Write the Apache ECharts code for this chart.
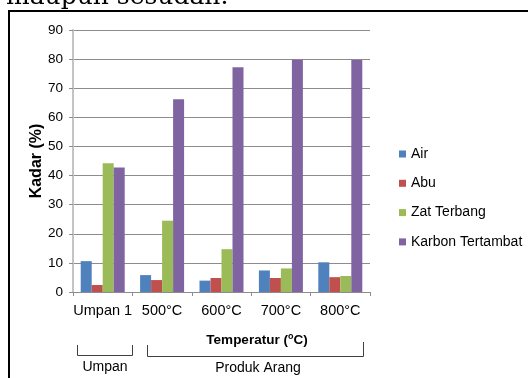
<!DOCTYPE html>
<html>
<head>
<meta charset="utf-8">
<script src="https://cdn.jsdelivr.net/npm/echarts@6/dist/echarts.min.js"></script>
<style>
  html, body { margin: 0; padding: 0; background: #ffffff; }
  #chart { width: 528px; height: 378px; }
</style>
</head>
<body>
<div id="chart"></div>
<script>
// Kadar (%) per sampel: umpan dan arang hasil pirolisis pada berbagai suhu
var categories = ['Umpan 1', '500°C', '600°C', '700°C', '800°C'];
var seriesNames = ['Air', 'Abu', 'Zat Terbang', 'Karbon Tertambat'];
var air = [10.6, 5.8, 3.9, 7.4, 10.2];
var abu = [2.4, 4.1, 4.8, 4.8, 5.1];
var zatTerbang = [44.2, 24.5, 14.7, 8.1, 5.5];
var karbonTertambat = [42.8, 66.2, 77.2, 79.8, 79.7];
var yTicks = [0, 10, 20, 30, 40, 50, 60, 70, 80, 90];

var colors = ['#4F81BD', '#C0504D', '#9BBB59', '#8064A2'];
var values = [air, abu, zatTerbang, karbonTertambat];
var FONT = "'Liberation Sans', Arial, sans-serif";

var chart = echarts.init(document.getElementById('chart'), null, { renderer: 'canvas' });

var series = seriesNames.map(function (name, i) {
  return {
    name: name,
    type: 'bar',
    data: values[i],
    barWidth: 11,
    barGap: '0%',
    itemStyle: { color: colors[i] }
  };
});

chart.setOption({
  animation: false,
  backgroundColor: '#ffffff',
  color: colors,
  grid: { left: 73, right: 158, top: 30, bottom: 86, containLabel: false },
  legend: {
    orient: 'vertical',
    left: 394,
    top: 141,
    icon: 'rect',
    itemWidth: 7,
    itemHeight: 7,
    itemGap: 13.3,
    data: seriesNames,
    textStyle: { fontFamily: FONT, fontSize: 14, color: '#000', lineHeight: 16 }
  },
  xAxis: {
    type: 'category',
    data: categories,
    axisLine: { show: true, lineStyle: { color: '#8c8c8c', width: 1 } },
    axisTick: { show: true, length: 4, lineStyle: { color: '#8c8c8c' } },
    axisLabel: { interval: 0, hideOverlap: false, fontFamily: FONT, fontSize: 14.5, color: '#000', margin: 11 },
    splitLine: { show: false }
  },
  yAxis: {
    type: 'value',
    min: yTicks[0],
    max: yTicks[yTicks.length - 1],
    interval: yTicks[1] - yTicks[0],
    name: 'Kadar (%)',
    nameLocation: 'middle',
    nameGap: 28,
    nameMoveOverlap: false,
    nameTextStyle: { fontFamily: FONT, fontSize: 16, fontWeight: 'bold', color: '#000' },
    axisLine: { show: true, lineStyle: { color: '#c4c4c4', width: 2 } },
    axisTick: { show: true, length: 4, lineStyle: { color: '#8c8c8c' } },
    axisLabel: { fontFamily: FONT, fontSize: 13.5, color: '#000', margin: 10 },
    splitLine: { show: true, lineStyle: { color: '#8c8c8c', width: 1 } }
  },
  series: series,
  graphic: [
    // running text above the figure frame
    {
      type: 'text', left: 6, top: -15, silent: true,
      style: { text: 'maupun sesudah.', font: "25px 'DejaVu Serif', 'Liberation Serif', serif", fill: '#000' }
    },
    // figure frame (top and left edges)
    {
      type: 'polyline', silent: true,
      shape: { points: [[9, 378], [9, 11], [528, 11]] },
      style: { stroke: '#000', lineWidth: 2, fill: null }
    },
    // x-axis title with superscript degree
    {
      type: 'text', x: 257, y: 340, silent: true,
      style: {
        text: '{b|Temperatur (}{s|o}{b|C)}',
        align: 'center', verticalAlign: 'middle',
        rich: {
          b: { fontFamily: FONT, fontSize: 13.5, fontWeight: 'bold', fill: '#000', lineHeight: 16 },
          s: { fontFamily: FONT, fontSize: 9, fontWeight: 'bold', fill: '#000', lineHeight: 16, verticalAlign: 'top', padding: [0, 0, 6, 0] }
        }
      }
    },
    // group brackets
    {
      type: 'polyline', silent: true,
      shape: { points: [[77.5, 345], [77.5, 355.5], [132.5, 355.5], [132.5, 345]] },
      style: { stroke: '#404040', lineWidth: 1, fill: null }
    },
    {
      type: 'polyline', silent: true,
      shape: { points: [[147.5, 345], [147.5, 356.5], [363.5, 356.5], [363.5, 342]] },
      style: { stroke: '#404040', lineWidth: 1, fill: null }
    },
    {
      type: 'text', x: 105, y: 367, silent: true,
      style: { text: 'Umpan', fontFamily: FONT, fontSize: 14, fill: '#000', align: 'center', verticalAlign: 'middle' }
    },
    {
      type: 'text', x: 258, y: 368, silent: true,
      style: { text: 'Produk Arang', fontFamily: FONT, fontSize: 14, fill: '#000', align: 'center', verticalAlign: 'middle' }
    }
  ]
});
</script>
</body>
</html>
